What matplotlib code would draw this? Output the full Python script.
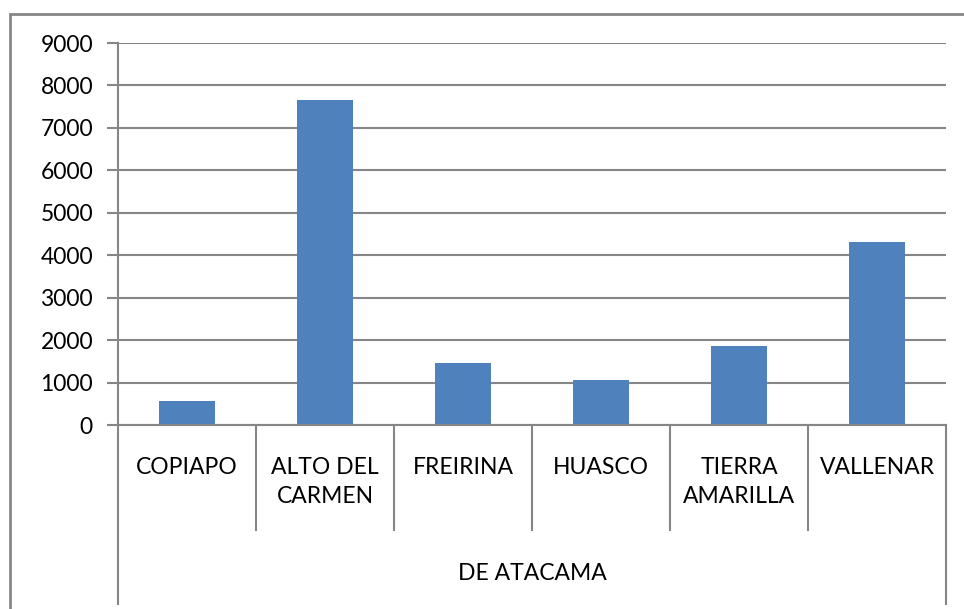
import matplotlib.pyplot as plt
from matplotlib.patches import Rectangle
import matplotlib.transforms as mtransforms

plt.rcParams['font.family'] = ['Lato', 'DejaVu Sans']

comunas = ['COPIAPO', 'ALTO DEL\nCARMEN', 'FREIRINA', 'HUASCO', 'TIERRA\nAMARILLA', 'VALLENAR']
valores = [570, 7660, 1455, 1060, 1860, 4315]
grupo = 'DE ATACAMA'
yticks = [0, 1000, 2000, 3000, 4000, 5000, 6000, 7000, 8000, 9000]

W, H = 964, 609
fig = plt.figure(figsize=(W / 100, H / 100), dpi=100)
gris = '#868686'

# plot area in pixels: x 118..946, y 43..425
ax = fig.add_axes([118 / W, (H - 425) / H, (946 - 118) / W, (425 - 43) / H])
x = list(range(len(comunas)))
ax.bar(x, valores, width=0.40, color='#4F81BD', zorder=3)
ax.set_xlim(-0.5, len(comunas) - 0.5)
ax.set_ylim(0, 9000)
ax.set_yticks(yticks)
ax.set_yticklabels([str(v) for v in yticks], fontsize=16.5)
ax.yaxis.grid(True, color=gris, linewidth=1.5, zorder=0)
ax.set_xticks([])
for s in ['top', 'right', 'bottom']:
    ax.spines[s].set_visible(False)
ax.spines['left'].set_color(gris)
ax.spines['left'].set_linewidth(1.5)
ax.tick_params(axis='y', length=8, width=1.5, color=gris, pad=10)

# multi-level category axis
ph = 425 - 43
tr = mtransforms.blended_transform_factory(ax.transData, ax.transAxes)
ax.plot([-0.5, len(comunas) - 0.5], [0, 0], color=gris, lw=1.5, transform=tr, clip_on=False, zorder=4)
for i in range(1, len(comunas)):
    ax.plot([i - 0.5, i - 0.5], [0, -(530 - 425) / ph], color=gris, lw=1.5, transform=tr, clip_on=False)
for xe in [-0.5, len(comunas) - 0.5]:
    ax.plot([xe, xe], [0, -(604 - 425) / ph], color=gris, lw=1.5, transform=tr, clip_on=False)
for i, c in enumerate(comunas):
    ax.text(i, -(457 - 425) / ph, c, transform=tr, ha='center', va='top', fontsize=16.5, linespacing=1.45)
ax.text((len(comunas) - 1) / 2, -(574 - 425) / ph, grupo, transform=tr, ha='center', va='center', fontsize=16.5)

# outer chart frame
fig.patches.append(Rectangle((10 / W, -0.1), 1.2, (H - 14) / H + 0.1, transform=fig.transFigure,
                             fill=False, edgecolor=gris, linewidth=2))

fig.savefig('out.png', dpi=100)
